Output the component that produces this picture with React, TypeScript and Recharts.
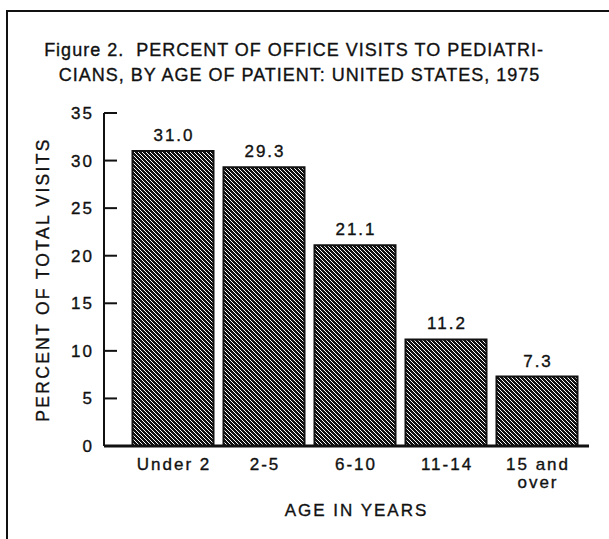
import { BarChart, Bar, XAxis, YAxis, LabelList, Label } from "recharts";

const ageGroups = ["Under 2", "2-5", "6-10", "11-14", "15 and\nover"];
const percentVisits = [31.0, 29.3, 21.1, 11.2, 7.3];
const yTicks = [0, 5, 10, 15, 20, 25, 30, 35];

const titleLines = [
  "Figure 2.  PERCENT OF OFFICE VISITS TO PEDIATRI-",
  "CIANS, BY AGE OF PATIENT: UNITED STATES, 1975",
];
const yAxisTitle = "PERCENT OF TOTAL VISITS";
const xAxisTitle = "AGE IN YEARS";

const data = ageGroups.map((age, i) => ({ age, pct: percentVisits[i] }));

const font = "'Liberation Sans', Arial, Helvetica, sans-serif";
const ink = "#111";
const textStyle = {
  fontFamily: font,
  fontSize: 17,
  fill: ink,
  stroke: ink,
  strokeWidth: 0.35,
  letterSpacing: 2,
};

function YTick(props: any) {
  const { x, y, payload } = props;
  // x sits 12px left of the axis line (tickMargin)
  return (
    <g>
      <line x1={x + 12} x2={x + 25} y1={y} y2={y} stroke={ink} strokeWidth={2} />
      <text x={x + 2} y={y} dy={6} textAnchor="end" style={textStyle}>
        {payload.value}
      </text>
    </g>
  );
}

function XTick(props: any) {
  const { x, y, payload } = props;
  const lines = String(payload.value).split("\n");
  return (
    <text x={x} y={y} textAnchor="middle" style={textStyle}>
      {lines.map((l, i) => (
        <tspan key={i} x={x + 1} dy={i === 0 ? 24 : 18}>
          {l}
        </tspan>
      ))}
    </text>
  );
}

function BarValue(props: any) {
  const { x, y, width, value } = props;
  return (
    <text x={x + width / 2 + 1} y={y - 10} textAnchor="middle" style={textStyle}>
      {Number(value).toFixed(1)}
    </text>
  );
}

export default function App() {
  const titleStyle = { ...textStyle, fontSize: 18, letterSpacing: 1, whiteSpace: "pre" as const };
  return (
    <div style={{ position: "absolute", left: 0, top: 0, width: 609, height: 539, background: "#fff" }}>
      <svg width={609} height={539} style={{ position: "absolute", left: 0, top: 0 }}>
        <defs>
          <pattern id="hatch" patternUnits="userSpaceOnUse" width={4} height={4}>
            <path
              d="M0,0 L4,4 M-1,3 L1,5 M3,-1 L5,1"
              stroke={ink}
              strokeWidth={1.5}
              shapeRendering="crispEdges"
            />
          </pattern>
        </defs>
        <path d="M7,539 L7,11 L609,11" fill="none" stroke={ink} strokeWidth={2} />
        <text x={294} y={56} textAnchor="middle" style={titleStyle}>
          {titleLines[0]}
        </text>
        <text x={299.5} y={81} textAnchor="middle" style={titleStyle}>
          {titleLines[1]}
        </text>
      </svg>
      <div style={{ position: "absolute", left: 0, top: 0 }}>
        <BarChart width={609} height={539} data={data} margin={{ top: 113, right: 20, left: 0, bottom: 0 }}>
          <XAxis
            dataKey="age"
            padding={{ left: 23.5, right: 6.5 }}
            axisLine={{ stroke: ink, strokeWidth: 3 }}
            tickLine={false}
            tickSize={0}
            tickMargin={0}
            height={93}
            interval={0}
            tick={<XTick />}
          >
            <Label
              content={(p: any) => (
                <text
                  x={p.viewBox.x + p.viewBox.width / 2 + 10}
                  y={p.viewBox.y + 70}
                  textAnchor="middle"
                  style={textStyle}
                >
                  {xAxisTitle}
                </text>
              )}
            />
          </XAxis>
          <YAxis
            domain={[0, 35]}
            ticks={yTicks}
            interval={0}
            width={104}
            axisLine={{ stroke: ink, strokeWidth: 2 }}
            tickLine={false}
            tickSize={0}
            tickMargin={12}
            tick={<YTick />}
          >
            <Label
              content={(p: any) => {
                const cx = p.viewBox.x + 43;
                const cy = p.viewBox.y + p.viewBox.height / 2;
                return (
                  <text
                    x={cx}
                    y={cy}
                    dy={6}
                    textAnchor="middle"
                    transform={`rotate(-90, ${cx}, ${cy})`}
                    style={{ ...textStyle, fontSize: 17.5, letterSpacing: 2.3 }}
                  >
                    {yAxisTitle}
                  </text>
                );
              }}
            />
          </YAxis>
          <Bar dataKey="pct" fill="url(#hatch)" stroke={ink} strokeWidth={2} barSize={81} isAnimationActive={false}>
            <LabelList dataKey="pct" content={<BarValue />} />
          </Bar>
        </BarChart>
      </div>
    </div>
  );
}
